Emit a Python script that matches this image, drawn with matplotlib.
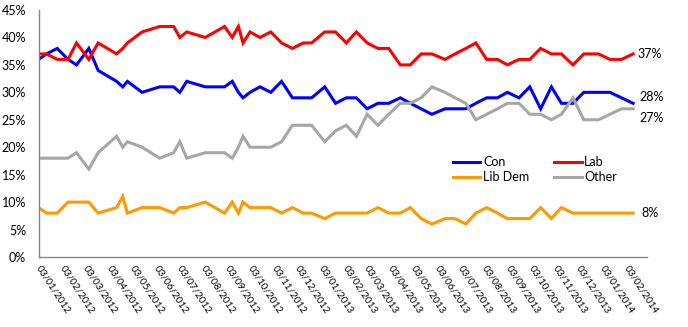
import datetime as dt
import matplotlib
matplotlib.use('Agg')
import matplotlib.pyplot as plt
import matplotlib.dates as mdates
from matplotlib.ticker import MultipleLocator, FuncFormatter

#--Data--
#Poll dates (dd/mm/yyyy) and shares in %
pollDates = ['03/01/2012', '13/01/2012', '27/01/2012', '10/02/2012', '21/02/2012',
             '08/03/2012', '20/03/2012', '13/04/2012', '21/04/2012', '27/04/2012',
             '16/05/2012', '08/06/2012', '26/06/2012', '04/07/2012', '13/07/2012',
             '06/08/2012', '31/08/2012', '10/09/2012', '18/09/2012', '24/09/2012',
             '03/10/2012', '16/10/2012', '30/10/2012', '13/11/2012', '27/11/2012',
             '11/12/2012', '22/12/2012', '08/01/2013', '22/01/2013', '05/02/2013',
             '18/02/2013', '04/03/2013', '18/03/2013', '01/04/2013', '16/04/2013',
             '29/04/2013', '13/05/2013', '27/05/2013', '13/06/2013', '26/06/2013',
             '10/07/2013', '23/07/2013', '06/08/2013', '20/08/2013', '02/09/2013',
             '17/09/2013', '01/10/2013', '15/10/2013', '29/10/2013', '11/11/2013',
             '26/11/2013', '10/12/2013', '29/12/2013', '13/01/2014', '28/01/2014',
             '12/02/2014']
con = [36, 37, 38, 36, 35, 38, 34, 32, 31, 32, 30, 31, 31, 30, 32, 31, 31, 32, 30, 29,
       30, 31, 30, 32, 29, 29, 29, 31, 28, 29, 29, 27, 28, 28, 29, 28, 27, 26, 27, 27,
       27, 28, 29, 29, 30, 29, 31, 27, 31, 28, 28, 30, 30, 30, 29, 28]
lab = [37, 37, 36, 36, 39, 36, 39, 37, 38, 39, 41, 42, 42, 40, 41, 40, 42, 40, 42, 39,
       41, 40, 41, 39, 38, 39, 39, 41, 41, 39, 41, 39, 38, 38, 35, 35, 37, 37, 36, 37,
       38, 39, 36, 36, 35, 36, 36, 38, 37, 37, 35, 37, 37, 36, 36, 37]
libDem = [9, 8, 8, 10, 10, 10, 8, 9, 11, 8, 9, 9, 8, 9, 9, 10, 8, 10, 8, 10,
          9, 9, 9, 8, 9, 8, 8, 7, 8, 8, 8, 8, 9, 8, 8, 9, 7, 6, 7, 7,
          6, 8, 9, 8, 7, 7, 7, 9, 7, 9, 8, 8, 8, 8, 8, 8]
other = [18, 18, 18, 18, 19, 16, 19, 22, 20, 21, 20, 18, 19, 21, 18, 19, 19, 18, 20, 22,
         20, 20, 20, 21, 24, 24, 24, 21, 23, 24, 22, 26, 24, 26, 28, 28, 29, 31, 30, 29,
         28, 25, 26, 27, 28, 28, 26, 26, 25, 26, 29, 25, 25, 26, 27, 27]
seriesNames = ['Con', 'Lab', 'Lib Dem', 'Other']
seriesColors = ['#0000FF', '#FF0000', '#FF9900', '#A6A6A6']
#Monthly axis labels start on this date
firstTick = '03/01/2012'
numTicks = 26
axisEnd = '02/03/2014'

#--Drawing--
plt.rcParams['font.family'] = ['Lato', 'DejaVu Sans']
toDate = lambda s: dt.datetime.strptime(s, '%d/%m/%Y')
x = [toDate(d) for d in pollDates]

fig = plt.figure(figsize=(6.88, 3.27), dpi=100)
ax = fig.add_axes([0.0563, 0.2141, 0.8841, 0.7553])

lines = []
for vals, name, col in zip([con, lab, libDem, other], seriesNames, seriesColors):
    ln, = ax.plot(x, [v / 100 for v in vals], color=col, lw=2.2, label=name,
                  solid_joinstyle='miter')
    lines.append(ln)

#End-of-line data labels (offsets in pixels, nudged like the original)
labelOffsets = [(6.7, 6), (4, 0), (8.4, 0), (6.7, -9.5)]
for vals, (dx, dy) in zip([con, lab, libDem, other], labelOffsets):
    ax.annotate('{0}%'.format(vals[-1]), (x[-1], vals[-1] / 100),
                xytext=(dx * 0.72, dy * 0.72), textcoords='offset points',
                ha='left', va='center', fontsize=9, annotation_clip=False)

#Axes setup
t0 = toDate(firstTick)
tickDates = [dt.datetime(t0.year + (t0.month - 1 + m) // 12, (t0.month - 1 + m) % 12 + 1, t0.day)
             for m in range(numTicks)]
ax.set_xlim(t0, toDate(axisEnd))
ax.set_xticks(tickDates)
ax.xaxis.set_major_formatter(mdates.DateFormatter('%d/%m/%Y'))
ax.set_ylim(0, 0.45)
ax.yaxis.set_major_locator(MultipleLocator(0.05))
ax.yaxis.set_major_formatter(FuncFormatter(lambda v, p: '{0:.0f}%'.format(v * 100)))
ax.tick_params(axis='both', length=0, labelsize=9)
ax.tick_params(axis='y', pad=9)
ax.tick_params(axis='x', pad=7, labelsize=7.2)
for lbl in ax.get_xticklabels():
    lbl.set_rotation(-57)
    lbl.set_rotation_mode('anchor')
    lbl.set_ha('left')
    lbl.set_va('center')
for side in ['top', 'right']:
    ax.spines[side].set_visible(False)
for side in ['left', 'bottom']:
    ax.spines[side].set_color('#868686')
    ax.spines[side].set_linewidth(1)

#Legend: Con/Lab on first row, Lib Dem/Other on second
order = [0, 2, 1, 3]
ax.legend([lines[i] for i in order], [seriesNames[i] for i in order], ncol=2,
          loc='upper left', bbox_to_anchor=(0.681, 0.408), frameon=False, fontsize=9,
          handlelength=2.2, handletextpad=0.2, columnspacing=2.0, labelspacing=0.25,
          borderpad=0, borderaxespad=0)

plt.savefig('out.png', dpi=100)
